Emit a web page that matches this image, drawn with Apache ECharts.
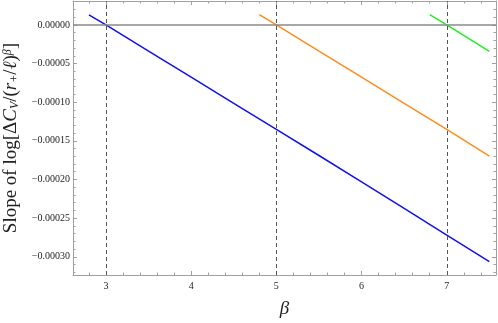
<!DOCTYPE html>
<html><head><meta charset="utf-8">
<script src="https://cdn.jsdelivr.net/npm/echarts@6/dist/echarts.min.js"></script>
<style>html,body{margin:0;padding:0;background:#fff}#c{width:498px;height:323px}</style>
</head><body><div id="c"></div>
<script>
// Data
var blueX = [2.8, 3.0, 3.5, 4.0, 4.5, 5.0, 5.5, 6.0, 6.5, 7.0, 7.5];
var blueY = [1.3e-5, 0, -3.4e-5, -6.75e-5, -1.015e-4, -1.353e-4, -1.69e-4, -2.03e-4, -2.375e-4, -2.72e-4, -3.064e-4];
var orangeX = [4.8, 5.0, 5.5, 6.0, 6.5, 7.0, 7.5];
var orangeY = [1.33e-5, 0, -3.4e-5, -6.75e-5, -1.015e-4, -1.353e-4, -1.697e-4];
var greenX = [6.8, 7.0, 7.5];
var greenY = [1.33e-5, 0, -3.44e-5];
var vLines = [3, 5, 7];
var xMajor = [3, 4, 5, 6, 7];
var yMajor = [0, -0.00005, -0.0001, -0.00015, -0.0002, -0.00025, -0.0003];
var XMIN = 2.613, XMAX = 7.578, YMIN = -0.0003236, YMAX = 0.0000309;

function minorTicks(lo, hi, step, majors) {
  var out = [];
  var n0 = Math.ceil(lo / step - 1e-9), n1 = Math.floor(hi / step + 1e-9);
  for (var i = n0; i <= n1; i++) {
    var v = +(i * step).toFixed(10);
    var isMajor = majors.some(function (m) { return Math.abs(m - v) < step / 100; });
    if (!isMajor) out.push(v);
  }
  return out;
}
var xMinor = minorTicks(XMIN, XMAX, 0.2, xMajor);
var yMinor = minorTicks(YMIN, YMAX, 0.00001, yMajor);

function zip(xs, ys) { return xs.map(function (x, i) { return [x, ys[i]]; }); }

var FR = '#a0a0a0';
var serif = 'Liberation Serif';
function xAx(pos, ticks, len, showLine, labels, extra) {
  var a = {
    type: 'value', min: XMIN, max: XMAX, position: pos,
    axisLine: { show: showLine, onZero: false, lineStyle: { color: FR, width: 1 } },
    splitLine: { show: false },
    axisTick: { show: true, inside: true, length: len, customValues: ticks, lineStyle: { color: FR, width: 1 } },
    axisLabel: labels ? { show: true, customValues: ticks, color: '#222', fontFamily: serif, fontSize: 10, margin: 6 } : { show: false }
  };
  return Object.assign(a, extra || {});
}
function yAx(pos, ticks, len, showLine, labels, extra) {
  var a = {
    type: 'value', min: YMIN, max: YMAX, position: pos,
    axisLine: { show: showLine, onZero: false, lineStyle: { color: FR, width: 1 } },
    splitLine: { show: false },
    axisTick: { show: true, inside: true, length: len, customValues: ticks, lineStyle: { color: FR, width: 1 } },
    axisLabel: labels ? {
      show: true, customValues: ticks, color: '#222', fontFamily: serif, fontSize: 10, margin: 3,
      formatter: function (v) { return Math.abs(v) < 1e-12 ? '0.00000' : '\u2212' + Math.abs(v).toFixed(5); }
    } : { show: false }
  };
  return Object.assign(a, extra || {});
}

var chart = echarts.init(document.getElementById('c'), null, { renderer: 'canvas' });
chart.setOption({
  animation: false,
  backgroundColor: '#fff',
  grid: { left: 73, right: 2, top: 1, bottom: 48, containLabel: false, outerBoundsMode: 'none' },
  xAxis: [
    xAx('bottom', xMajor, 4, true, true, {
      name: 'β', nameLocation: 'middle', nameGap: 24,
      nameTextStyle: { fontFamily: serif, fontStyle: 'italic', fontSize: 19, color: '#222' }
    }),
    xAx('bottom', xMinor, 2.5, false, false),
    xAx('top', xMajor, 4, true, false),
    xAx('top', xMinor, 2.5, false, false)
  ],
  yAxis: [
    yAx('left', yMajor, 4, true, true, {
      name: '{n|Slope of log[Δ}{i|C}{sub|V}{n|/(}{i|r}{sub|+}{n|/}{i|ℓ}{n|)}{sup|β}{n|]}',
      nameLocation: 'middle', nameGap: 47, nameRotate: 90,
      nameTextStyle: {
        color: '#222', fontFamily: serif, fontSize: 19,
        rich: {
          n: { fontFamily: serif, fontSize: 19, color: '#222' },
          i: { fontFamily: serif, fontSize: 19, fontStyle: 'italic', color: '#222' },
          sub: { fontFamily: serif, fontSize: 12, fontStyle: 'italic', color: '#222', verticalAlign: 'bottom', padding: [6, 0, 0, 0] },
          sup: { fontFamily: serif, fontSize: 12, fontStyle: 'italic', color: '#222', verticalAlign: 'top', padding: [0, 0, 6, 0] }
        }
      }
    }),
    yAx('left', yMinor, 2.5, false, false),
    yAx('right', yMajor, 4, true, false),
    yAx('right', yMinor, 2.5, false, false)
  ],
  series: [
    {
      type: 'line', data: [], xAxisIndex: 0, yAxisIndex: 0, silent: true,
      markLine: {
        silent: true, symbol: ['none', 'none'], label: { show: false },
        data: [{ yAxis: 0, lineStyle: { color: '#8a8a8a', width: 1.5, type: 'solid' } }].concat(
          vLines.map(function (v) { return { xAxis: v, lineStyle: { color: '#555', width: 1, type: [4, 3] } }; })
        ),
        animation: false
      }
    },
    { type: 'line', data: zip(blueX, blueY), showSymbol: false, lineStyle: { color: '#1010ee', width: 1.5 }, z: 3 },
    { type: 'line', data: zip(orangeX, orangeY), showSymbol: false, lineStyle: { color: '#ff8c1a', width: 1.5 }, z: 3 },
    { type: 'line', data: zip(greenX, greenY), showSymbol: false, lineStyle: { color: '#22ee22', width: 1.5 }, z: 3 }
  ]
});
</script></body></html>
